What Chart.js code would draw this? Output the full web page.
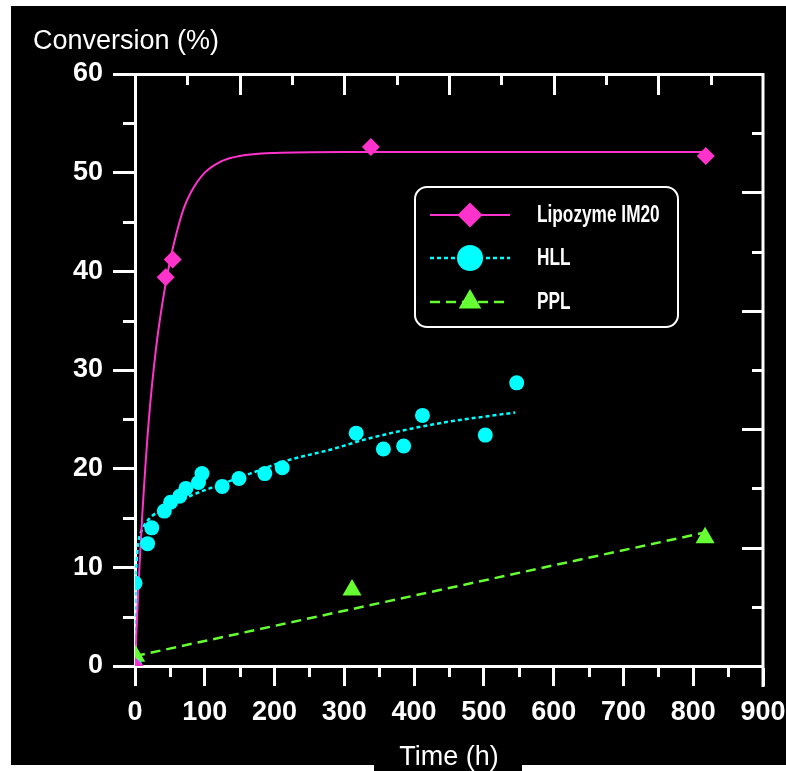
<!DOCTYPE html>
<html>
<head>
<meta charset="utf-8">
<title>Conversion vs time</title>
<script src="https://cdn.jsdelivr.net/npm/chart.js@4.4.1/dist/chart.umd.min.js"></script>
<style>
  html, body { margin: 0; padding: 0; background: #fff; }
  canvas { display: block; }
</style>
</head>
<body>
<canvas id="chart" width="786" height="771"></canvas>
<script>
// measured conversions (time in h, conversion in %)
const imTime = [0, 44, 54, 338, 818];
const imConv = [0, 39.4, 41.2, 52.6, 51.7];
const hllTime = [0, 0, 18, 24, 42, 51, 64, 73, 91, 96, 125, 149, 186, 211, 317, 356, 385, 412, 502, 547];
const hllConv = [0, 8.4, 12.4, 14.0, 15.7, 16.6, 17.2, 18.0, 18.6, 19.5, 18.2, 19.0, 19.5, 20.1, 23.6, 22.0, 22.3, 25.4, 23.4, 28.7];
const pplTime = [0, 1, 311, 817];
const pplConv = [0, 1.0, 7.7, 13.0];

// fitted curves
const imFitTime = [0, 5, 10, 20, 30, 40, 50, 60, 70, 80, 100, 125, 150, 200, 300, 818];
const imFitConv = [0, 8.2, 14.8, 25.1, 32.1, 37.1, 41.0, 44.0, 46.4, 48.0, 50.0, 51.2, 51.7, 52.0, 52.1, 52.1];
const hllFitTime = [0, 1, 2.5, 5, 10, 20, 40, 60, 88, 107, 165, 217, 284, 332, 428, 545];
const hllFitConv = [0, 8.0, 10.7, 12.6, 13.8, 14.9, 15.9, 16.6, 17.5, 18.0, 19.5, 20.8, 22.0, 23.0, 24.5, 25.7];
const pplFitTime = [0, 815];
const pplFitConv = [1.0, 13.5];

const xTicks = [0, 900, 100];
const yTicks = [0, 60, 10];

const PINK = '#ff33cc';
const CYAN = '#00ffff';
const GREEN = '#66ff33';
const FONT = "'Liberation Sans', Arial, Helvetica, sans-serif";

const pts = (xs, ys) => xs.map((x, i) => ({ x: x, y: ys[i] }));

// black panel with white margins, title text, frame and legend
const decor = {
  id: 'decor',
  beforeDraw(chart) {
    const ctx = chart.ctx;
    ctx.save();
    ctx.fillStyle = '#fff';
    ctx.fillRect(0, 0, chart.width, chart.height);
    ctx.fillStyle = '#000';
    ctx.fillRect(11, 6, chart.width - 11, 759);
    ctx.fillRect(374, 765, 148, chart.height - 765);
    ctx.restore();
  },
  afterDatasetsDraw(chart) {
    const ctx = chart.ctx;
    const a = chart.chartArea;
    const xs = chart.scales.x, ys = chart.scales.y;
    ctx.save();
    ctx.strokeStyle = '#fff';
    ctx.lineWidth = 3;
    ctx.lineCap = 'butt';
    ctx.beginPath();
    // top and right frame
    ctx.moveTo(a.left, a.top + 0.5);
    ctx.lineTo(a.right + 1.5, a.top + 0.5);
    ctx.moveTo(a.right, a.top);
    ctx.lineTo(a.right, a.bottom + 21);
    // minor ticks on the left and bottom axes
    for (let v = 5; v < 60; v += 10) {
      const y = Math.round(ys.getPixelForValue(v)) + 0.5;
      ctx.moveTo(a.left - 12, y);
      ctx.lineTo(a.left, y);
    }
    for (let v = 50; v < 900; v += 100) {
      const x = Math.round(xs.getPixelForValue(v)) + 0.5;
      ctx.moveTo(x, a.bottom);
      ctx.lineTo(x, a.bottom + 11);
    }
    // inward ticks on the top axis
    const w = a.right - a.left, h = a.bottom - a.top;
    for (let k = 1; k < 12; k++) {
      const x = Math.round(a.left + k * w / 12) + 0.5;
      ctx.moveTo(x, a.top);
      ctx.lineTo(x, a.top + (k % 2 ? 11 : 21));
    }
    // inward ticks on the right axis
    for (let k = 1; k < 10; k++) {
      const y = Math.round(a.bottom - k * h / 10) + 0.5;
      ctx.moveTo(a.right, y);
      ctx.lineTo(a.right - (k % 2 ? 11 : 21), y);
    }
    ctx.stroke();

    ctx.fillStyle = '#fff';
    ctx.font = '27px ' + FONT;
    ctx.textBaseline = 'middle';
    ctx.textAlign = 'left';
    ctx.fillText('Conversion (%)', 33, 42);
    ctx.restore();
  },
  afterDraw(chart) {
    const ctx = chart.ctx;
    const box = { x: 415, y: 187, w: 263, h: 140 };
    ctx.save();
    ctx.strokeStyle = '#fff';
    ctx.lineWidth = 2;
    ctx.beginPath();
    ctx.roundRect(box.x, box.y, box.w, box.h, 12);
    ctx.stroke();

    const sets = chart.data.datasets;
    const rows = [215, 258, 302];
    sets.filter(d => d.legendRadius).forEach((d, i) => {
      const fit = sets.find(f => f.group === d.group && f.showLine);
      const y = rows[i];
      ctx.save();
      ctx.strokeStyle = fit.borderColor;
      ctx.lineWidth = fit.borderWidth;
      ctx.setLineDash(fit.borderDash || []);
      ctx.beginPath();
      ctx.moveTo(430, y);
      ctx.lineTo(510, y);
      ctx.stroke();
      ctx.restore();

      ctx.fillStyle = d.backgroundColor;
      ctx.strokeStyle = d.backgroundColor;
      Chart.helpers.drawPoint(ctx, {
        pointStyle: d.pointStyle, radius: d.legendRadius, rotation: 0, borderWidth: 0
      }, 470, y);

      ctx.save();
      ctx.fillStyle = '#fff';
      ctx.font = 'bold 23px ' + FONT;
      ctx.textBaseline = 'middle';
      ctx.translate(537, y + 1);
      ctx.scale(0.75, 1);
      ctx.fillText(d.label, 0, 0);
      ctx.restore();
    });
    ctx.restore();
  }
};

new Chart(document.getElementById('chart'), {
  type: 'scatter',
  data: {
    datasets: [
      {
        label: 'Lipozyme IM20', group: 'im', data: pts(imTime, imConv),
        pointStyle: 'rectRot', pointRadius: 9, pointBorderWidth: 0,
        backgroundColor: PINK, borderColor: PINK, legendRadius: 12.5
      },
      {
        label: 'HLL', group: 'hll', data: pts(hllTime, hllConv),
        pointStyle: 'circle', pointRadius: 7.5, pointBorderWidth: 0,
        backgroundColor: CYAN, borderColor: CYAN, legendRadius: 13
      },
      {
        label: 'PPL', group: 'ppl', data: pts(pplTime, pplConv),
        pointStyle: 'triangle', pointRadius: 11, pointBorderWidth: 0,
        backgroundColor: GREEN, borderColor: GREEN, legendRadius: 13
      },
      {
        label: 'Lipozyme IM20 fit', group: 'im', data: pts(imFitTime, imFitConv),
        showLine: true, pointRadius: 0, borderColor: PINK, borderWidth: 2,
        cubicInterpolationMode: 'monotone'
      },
      {
        label: 'HLL fit', group: 'hll', data: pts(hllFitTime, hllFitConv),
        showLine: true, pointRadius: 0, borderColor: CYAN, borderWidth: 2.5,
        borderDash: [4, 3], cubicInterpolationMode: 'monotone'
      },
      {
        label: 'PPL fit', group: 'ppl', data: pts(pplFitTime, pplFitConv),
        showLine: true, pointRadius: 0, borderColor: GREEN, borderWidth: 2.5,
        borderDash: [10, 6]
      }
    ]
  },
  options: {
    responsive: false,
    animation: false,
    devicePixelRatio: 1,
    layout: { padding: { top: 74, right: 0, left: 0, bottom: 0 } },
    plugins: { legend: { display: false }, tooltip: { enabled: false } },
    scales: {
      x: {
        type: 'linear', min: xTicks[0], max: xTicks[1],
        afterFit(s) { s.height = 105; s.paddingLeft = 0; s.paddingRight = 23; },
        grid: { drawOnChartArea: false, tickLength: 20, tickWidth: 3, tickColor: '#fff' },
        border: { color: '#fff', width: 3 },
        ticks: { stepSize: xTicks[2], color: '#fff', padding: 10, maxRotation: 0,
                 font: { family: FONT, size: 27, weight: 'bold' } },
        title: { display: true, text: 'Time (h)', color: '#fff', padding: { top: 0, bottom: -3 },
                 font: { family: FONT, size: 27 } }
      },
      y: {
        type: 'linear', min: yTicks[0], max: yTicks[1],
        afterFit(s) { s.width = 135; s.paddingTop = 0; s.paddingBottom = 0; },
        grid: { drawOnChartArea: false, tickLength: 22, tickWidth: 3, tickColor: '#fff' },
        border: { color: '#fff', width: 3 },
        ticks: { stepSize: yTicks[2], color: '#fff', padding: 10,
                 font: { family: FONT, size: 27, weight: 'bold' } }
      }
    }
  },
  plugins: [decor]
});
</script>
</body>
</html>
